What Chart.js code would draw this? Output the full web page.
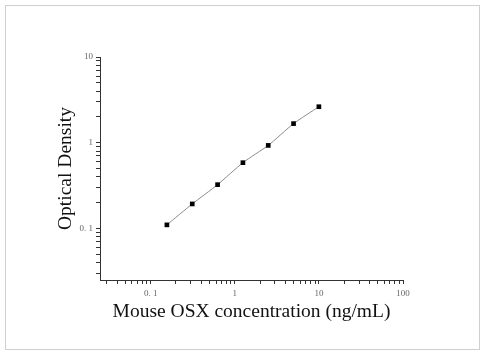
<!DOCTYPE html>
<html><head><meta charset="utf-8">
<script src="https://cdn.jsdelivr.net/npm/chart.js@4"></script>
<style>
html,body{margin:0;padding:0;background:#fff;}
#wrap{position:relative;width:484px;height:357px;}
#frame{position:absolute;left:5px;top:5px;width:473px;height:343px;border:1px solid #cfcfcf;pointer-events:none;}
canvas{position:absolute;left:0;top:0;}
</style></head>
<body>
<div id="wrap"><canvas id="c" width="484" height="357"></canvas><div id="frame"></div></div>
<script>
const concentrations = [0.156, 0.3125, 0.625, 1.25, 2.5, 5, 10];
const odValues = [0.110, 0.193, 0.324, 0.585, 0.93, 1.67, 2.63];
const xTickValues = [0.03,0.04,0.05,0.06,0.07,0.08,0.09,0.1,0.2,0.3,0.4,0.5,0.6,0.7,0.8,0.9,1,2,3,4,5,6,7,8,9,10,20,30,40,50,60,70,80,90,100];
const yTickValues = [0.03,0.04,0.05,0.06,0.07,0.08,0.09,0.1,0.2,0.3,0.4,0.5,0.6,0.7,0.8,0.9,1,2,3,4,5,6,7,8,9,10];
const majorLabels = {"0.1":"0. 1","1":"1","10":"10","100":"100"};
const xTitle = "Mouse OSX concentration (ng/mL)";
const yTitle = "Optical Density";

const points = concentrations.map((x,i)=>({x:x,y:odValues[i]}));
const tickFont = {family:"'Liberation Serif','DejaVu Serif',serif", size:9};
const titleFont = {family:"'Liberation Serif','DejaVu Serif',serif", size:19.5};
function lbl(v){ const k = String(+v.toPrecision(6)); return majorLabels[k] !== undefined ? majorLabels[k] : ''; }

new Chart(document.getElementById('c'), {
  type:'line',
  data:{datasets:[{
    data:points,
    borderColor:'#8a8a8a', borderWidth:1, tension:0.2,
    pointStyle:'rect', pointRadius:3.3, pointBackgroundColor:'#000', pointBorderColor:'#000', pointBorderWidth:0,
    fill:false
  }]},
  options:{
    responsive:false, animation:false, devicePixelRatio:1,
    layout:{padding:{left:54,right:81,top:57,bottom:33}},
    plugins:{legend:{display:false}, tooltip:{enabled:false}},
    scales:{
      x:{
        type:'logarithmic', min:0.025, max:100,
        afterBuildTicks:(s)=>{ s.ticks = xTickValues.map(v=>({value:v})); },
        afterFit:(s)=>{ s.height = 44; },
        grid:{drawOnChartArea:false, tickLength:4, color:'#333', tickColor:'#333'},
        border:{color:'#333', width:1},
        ticks:{autoSkip:false, maxRotation:0, padding:4, color:'#666', font:tickFont, callback:(v)=>lbl(v)},
        title:{display:true, text:xTitle, color:'#111', font:titleFont, padding:0}
      },
      y:{
        type:'logarithmic', min:0.025, max:10,
        afterBuildTicks:(s)=>{ s.ticks = yTickValues.map(v=>({value:v})); },
        afterFit:(s)=>{ s.width = 46; },
        grid:{drawOnChartArea:false, tickLength:4, color:'#333', tickColor:'#333'},
        border:{color:'#333', width:1},
        ticks:{autoSkip:false, padding:3, color:'#666', font:tickFont, callback:(v)=>lbl(v)},
        title:{display:true, text:yTitle, color:'#111', font:titleFont, padding:0}
      }
    }
  }
});
</script>
</body></html>
